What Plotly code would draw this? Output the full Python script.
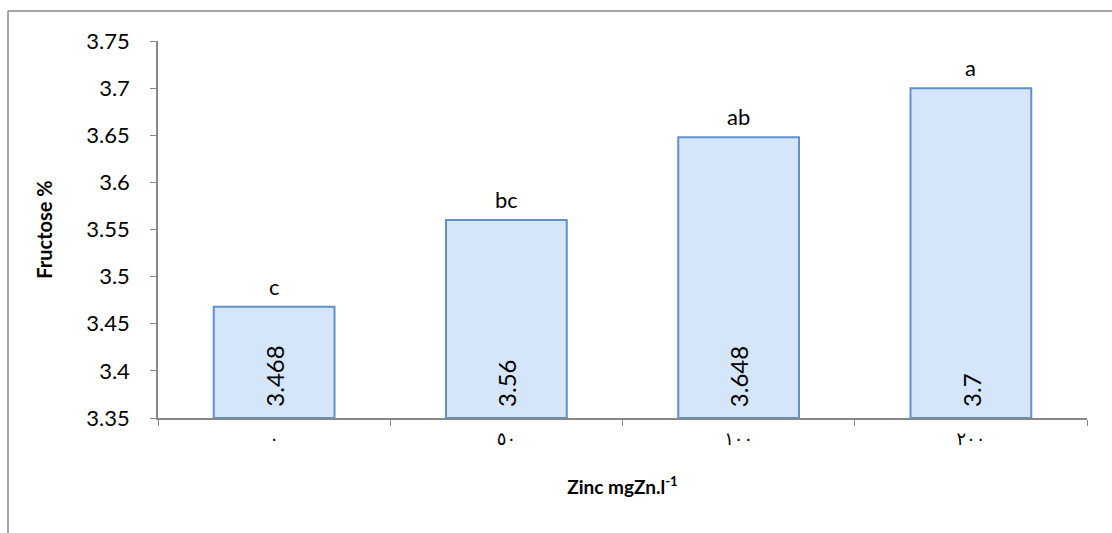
import plotly.graph_objects as go

categories = ["٠", "٥٠", "١٠٠", "٢٠٠"]
values = [3.468, 3.56, 3.648, 3.7]
value_labels = ["3.468", "3.56", "3.648", "3.7"]
letters = ["c", "bc", "ab", "a"]
y_base = 3.35
y_ticks = [3.35, 3.4, 3.45, 3.5, 3.55, 3.6, 3.65, 3.7, 3.75]
y_ticktext = ["3.35", "3.4", "3.45", "3.5", "3.55", "3.6", "3.65", "3.7", "3.75"]

W, H = 1112, 533
L, R, T, B = 158, 1087, 41, 418
pw, ph = R - L, B - T
FONT = "Lato, DejaVu Sans"

fig = go.Figure()
fig.add_trace(go.Bar(
    x=categories, y=[v - y_base for v in values], base=y_base,
    width=0.52,
    marker=dict(color="#d5e6fa", line=dict(color="#6390c8", width=2)),
    hoverinfo="skip",
))

annotations = [
    dict(x=c, y=v, text=t, showarrow=False, xref="x", yref="y",
         yanchor="bottom", yshift=5,
         font=dict(size=22, color="black", family=FONT))
    for c, v, t in zip(categories, values, letters)
]
annotations += [
    dict(x=c, y=y_base, text=t, showarrow=False, xref="x", yref="y",
         yanchor="bottom", yshift=9, textangle=-90,
         font=dict(size=24, color="black", family=FONT))
    for c, t in zip(categories, value_labels)
]

fig.update_layout(
    width=W, height=H,
    margin=dict(l=L, r=W - R, t=T, b=H - B),
    paper_bgcolor="white", plot_bgcolor="white",
    showlegend=False,
    annotations=annotations,
    xaxis=dict(
        type="category", showline=True, linecolor="#888888", linewidth=1.5,
        ticks="outside", tickson="boundaries", ticklen=6, tickcolor="#888888",
        tickfont=dict(size=18, color="black", family="DejaVu Sans"),
        ticklabelstandoff=4,
        title=dict(text="<b>Zinc mgZn.l<sup>-1</sup></b>", standoff=32,
                   font=dict(size=19, color="black", family=FONT)),
        showgrid=False, zeroline=False,
    ),
    yaxis=dict(
        range=[3.35, 3.75], tickvals=y_ticks, ticktext=y_ticktext,
        showline=True, linecolor="#888888", linewidth=1.5,
        ticks="outside", ticklen=6, tickcolor="#888888",
        tickfont=dict(size=22, color="black", family=FONT),
        ticklabelstandoff=16,
        title=dict(text="<b>Fructose %</b>", standoff=28,
                   font=dict(size=20, color="black", family=FONT)),
        showgrid=False, zeroline=False,
    ),
    shapes=[
        dict(type="line", xref="paper", yref="paper",
             x0=(8 - L) / pw, x1=(W + 5 - L) / pw,
             y0=1 + (T - 11) / ph, y1=1 + (T - 11) / ph,
             line=dict(color="#888888", width=1.5)),
        dict(type="line", xref="paper", yref="paper",
             x0=(8 - L) / pw, x1=(8 - L) / pw,
             y0=1 + (T - 11) / ph, y1=(B - H - 5) / ph,
             line=dict(color="#888888", width=1.5)),
    ],
)

fig.write_html("out.html")
